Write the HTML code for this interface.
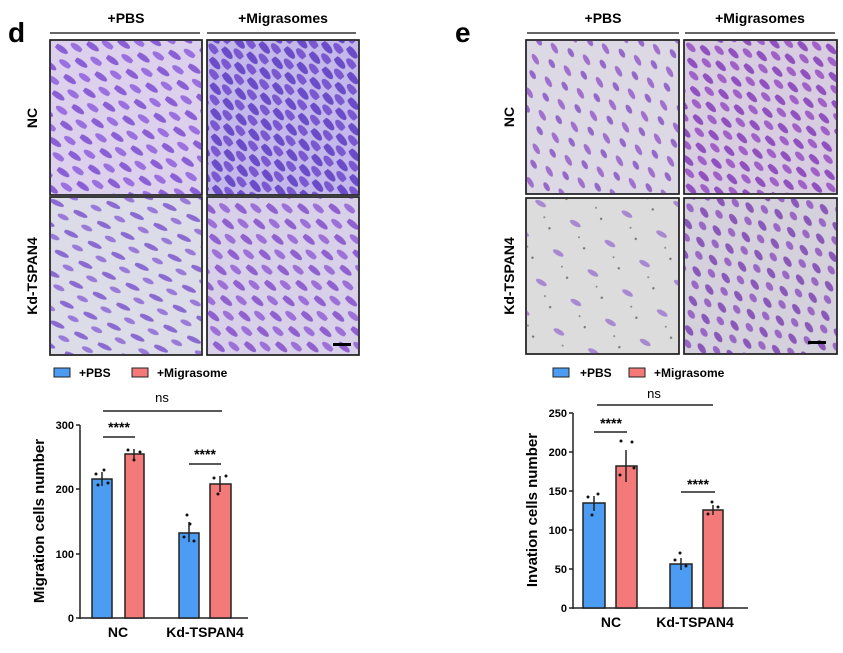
<!DOCTYPE html>
<html><head><style>body{margin:0;background:#fff}svg{display:block}</style></head><body>
<svg width="843" height="653" xmlns="http://www.w3.org/2000/svg" font-family="Liberation Sans, sans-serif" font-weight="bold">
<defs>
<pattern id="c1" width="24" height="20" patternUnits="userSpaceOnUse" patternTransform="rotate(35)">
<ellipse cx="6" cy="5" rx="8" ry="3" fill="#8a5fd6"/><ellipse cx="18" cy="15" rx="7" ry="3" fill="#9a6fe0"/></pattern>
<pattern id="c2" width="20" height="16" patternUnits="userSpaceOnUse" patternTransform="rotate(50)">
<ellipse cx="6" cy="4" rx="8" ry="3.5" fill="#6a4cc8"/><ellipse cx="15" cy="12" rx="7" ry="3.5" fill="#7a58d0"/></pattern>
<pattern id="c3" width="26" height="22" patternUnits="userSpaceOnUse" patternTransform="rotate(25)">
<ellipse cx="7" cy="6" rx="8" ry="2.5" fill="#8a6ad0"/><ellipse cx="19" cy="16" rx="6" ry="2.5" fill="#9a7ad8"/></pattern>
<pattern id="c4" width="24" height="20" patternUnits="userSpaceOnUse" patternTransform="rotate(40)">
<ellipse cx="6" cy="5" rx="8" ry="3" fill="#9060d0"/><ellipse cx="18" cy="15" rx="7" ry="3" fill="#9c70d8"/></pattern>
<pattern id="c5" width="26" height="22" patternUnits="userSpaceOnUse" patternTransform="rotate(60)">
<ellipse cx="7" cy="6" rx="6" ry="2.5" fill="#a070cc"/><ellipse cx="19" cy="16" rx="5" ry="2.5" fill="#9468c8"/></pattern>
<pattern id="c6" width="22" height="18" patternUnits="userSpaceOnUse" patternTransform="rotate(45)">
<ellipse cx="6" cy="5" rx="7" ry="3" fill="#9050c0"/><ellipse cx="16" cy="13" rx="6" ry="3" fill="#a060c8"/></pattern>
<pattern id="c7" width="40" height="34" patternUnits="userSpaceOnUse" patternTransform="rotate(30)">
<ellipse cx="10" cy="8" rx="6" ry="2.5" fill="#a888d0"/><circle cx="30" cy="25" r="1.2" fill="#777"/><circle cx="20" cy="18" r="1" fill="#888"/></pattern>
<pattern id="c8" width="22" height="20" patternUnits="userSpaceOnUse" patternTransform="rotate(55)">
<ellipse cx="6" cy="5" rx="6" ry="3" fill="#8a58b8"/><ellipse cx="16" cy="14" rx="5" ry="3" fill="#9a68c4"/></pattern>
</defs>
<text x="8" y="42" font-size="28">d</text>
<text x="455" y="42" font-size="28">e</text>
<g font-size="14" text-anchor="middle">
<text x="126" y="23">+PBS</text><text x="283" y="23">+Migrasomes</text>
<text x="603" y="23">+PBS</text><text x="760" y="23">+Migrasomes</text></g>
<g stroke="#333" stroke-width="1.5"><line x1="50" y1="33" x2="200" y2="33"/><line x1="207" y1="33" x2="356" y2="33"/><line x1="527" y1="33" x2="679" y2="33"/><line x1="685" y1="33" x2="835" y2="33"/></g>
<g stroke="#222" stroke-width="1.5">
<rect x="50" y="40" width="152" height="155" fill="#dcd0ec"/><rect x="50" y="40" width="152" height="155" fill="url(#c1)"/>
<rect x="207" y="40" width="152" height="155" fill="#c4b8ea"/><rect x="207" y="40" width="152" height="155" fill="url(#c2)"/>
<rect x="50" y="197" width="152" height="158" fill="#dcdce8"/><rect x="50" y="197" width="152" height="158" fill="url(#c3)"/>
<rect x="207" y="197" width="152" height="158" fill="#d8d0e8"/><rect x="207" y="197" width="152" height="158" fill="url(#c4)"/>
<rect x="526" y="40" width="153" height="154" fill="#dcd8e4"/><rect x="526" y="40" width="153" height="154" fill="url(#c5)"/>
<rect x="684" y="40" width="153" height="154" fill="#d8cce0"/><rect x="684" y="40" width="153" height="154" fill="url(#c6)"/>
<rect x="526" y="198" width="153" height="156" fill="#dcdcdc"/><rect x="526" y="198" width="153" height="156" fill="url(#c7)"/>
<rect x="684" y="198" width="153" height="156" fill="#d4d0dc"/><rect x="684" y="198" width="153" height="156" fill="url(#c8)"/>
</g>
<rect x="333" y="343" width="18" height="3" fill="#000"/><rect x="808" y="341" width="18" height="3" fill="#000"/>
<g font-size="14">
<text transform="translate(37,118) rotate(-90)" text-anchor="middle">NC</text>
<text transform="translate(37,276) rotate(-90)" text-anchor="middle">Kd-TSPAN4</text>
<text transform="translate(514,117) rotate(-90)" text-anchor="middle">NC</text>
<text transform="translate(514,276) rotate(-90)" text-anchor="middle">Kd-TSPAN4</text>
</g>
<!-- legends -->
<g font-size="12" stroke="#222" stroke-width="1">
<rect x="54" y="368" width="16" height="9" fill="#4c9cf4"/><text x="79" y="377" stroke="none">+PBS</text>
<rect x="132" y="368" width="16" height="9" fill="#f47a7a"/><text x="157" y="377" stroke="none">+Migrasome</text>
<rect x="553" y="368" width="16" height="9" fill="#4c9cf4"/><text x="580" y="377" stroke="none">+PBS</text>
<rect x="629" y="368" width="16" height="9" fill="#f47a7a"/><text x="654" y="377" stroke="none">+Migrasome</text>
</g>
<!-- left chart -->
<g stroke="#222" stroke-width="1.5">
<line x1="80" y1="425" x2="80" y2="619"/><line x1="80" y1="618" x2="248" y2="618"/>
<line x1="76" y1="425" x2="80" y2="425"/><line x1="76" y1="489" x2="80" y2="489"/><line x1="76" y1="554" x2="80" y2="554"/><line x1="76" y1="618" x2="80" y2="618"/>
<rect x="92" y="479" width="20" height="139" fill="#4c9cf4"/><rect x="125" y="454" width="19" height="164" fill="#f47a7a"/>
<rect x="179" y="533" width="20" height="85" fill="#4c9cf4"/><rect x="210" y="484" width="21" height="134" fill="#f47a7a"/>
<line x1="102" y1="472" x2="102" y2="486"/><line x1="134" y1="449" x2="134" y2="460"/><line x1="189" y1="522" x2="189" y2="542"/><line x1="220" y1="476" x2="220" y2="492"/>
<line x1="103" y1="411" x2="222" y2="411"/><line x1="103" y1="437" x2="135" y2="437"/><line x1="189" y1="464" x2="221" y2="464"/>
</g>
<g fill="#111"><circle cx="96" cy="474" r="1.5"/><circle cx="104" cy="470" r="1.5"/><circle cx="108" cy="483" r="1.5"/><circle cx="98" cy="485" r="1.5"/>
<circle cx="128" cy="450" r="1.5"/><circle cx="140" cy="452" r="1.5"/><circle cx="134" cy="460" r="1.5"/>
<circle cx="187" cy="515" r="1.5"/><circle cx="190" cy="524" r="1.5"/><circle cx="184" cy="537" r="1.5"/><circle cx="194" cy="541" r="1.5"/>
<circle cx="214" cy="478" r="1.5"/><circle cx="226" cy="476" r="1.5"/><circle cx="218" cy="494" r="1.5"/></g>
<g font-size="11" text-anchor="end"><text x="74" y="429">300</text><text x="74" y="493">200</text><text x="74" y="558">100</text><text x="74" y="622">0</text></g>
<g font-size="14" text-anchor="middle"><text x="118" y="637">NC</text><text x="205" y="637">Kd-TSPAN4</text>
<text x="119" y="432">****</text><text x="205" y="459">****</text></g>
<text x="162" y="402" font-size="13" text-anchor="middle" font-weight="normal">ns</text>
<text transform="translate(44,521) rotate(-90)" text-anchor="middle" font-size="15">Migration cells number</text>
<!-- right chart -->
<g stroke="#222" stroke-width="1.5">
<line x1="573" y1="413" x2="573" y2="609"/><line x1="573" y1="608" x2="748" y2="608"/>
<line x1="569" y1="413" x2="573" y2="413"/><line x1="569" y1="452" x2="573" y2="452"/><line x1="569" y1="491" x2="573" y2="491"/><line x1="569" y1="530" x2="573" y2="530"/><line x1="569" y1="569" x2="573" y2="569"/><line x1="569" y1="608" x2="573" y2="608"/>
<rect x="583" y="503" width="22" height="105" fill="#4c9cf4"/><rect x="616" y="466" width="21" height="142" fill="#f47a7a"/>
<rect x="670" y="564" width="22" height="44" fill="#4c9cf4"/><rect x="703" y="510" width="20" height="98" fill="#f47a7a"/>
<line x1="594" y1="496" x2="594" y2="511"/><line x1="626" y1="450" x2="626" y2="482"/><line x1="681" y1="558" x2="681" y2="570"/><line x1="713" y1="505" x2="713" y2="515"/>
<line x1="597" y1="405" x2="713" y2="405"/><line x1="594" y1="432" x2="627" y2="432"/><line x1="681" y1="492" x2="715" y2="492"/>
</g>
<g fill="#111"><circle cx="588" cy="497" r="1.5"/><circle cx="598" cy="494" r="1.5"/><circle cx="592" cy="515" r="1.5"/>
<circle cx="621" cy="441" r="1.5"/><circle cx="632" cy="442" r="1.5"/><circle cx="620" cy="475" r="1.5"/><circle cx="634" cy="468" r="1.5"/>
<circle cx="680" cy="553" r="1.5"/><circle cx="675" cy="560" r="1.5"/><circle cx="686" cy="566" r="1.5"/>
<circle cx="712" cy="502" r="1.5"/><circle cx="718" cy="507" r="1.5"/><circle cx="708" cy="514" r="1.5"/></g>
<g font-size="11" text-anchor="end"><text x="567" y="417">250</text><text x="567" y="456">200</text><text x="567" y="495">150</text><text x="567" y="534">100</text><text x="567" y="573">50</text><text x="567" y="612">0</text></g>
<g font-size="14" text-anchor="middle"><text x="611" y="627">NC</text><text x="695" y="627">Kd-TSPAN4</text>
<text x="611" y="428">****</text><text x="698" y="489">****</text></g>
<text x="654" y="398" font-size="13" text-anchor="middle" font-weight="normal">ns</text>
<text transform="translate(537,510) rotate(-90)" text-anchor="middle" font-size="15">Invation cells number</text>
</svg>
</body></html>
